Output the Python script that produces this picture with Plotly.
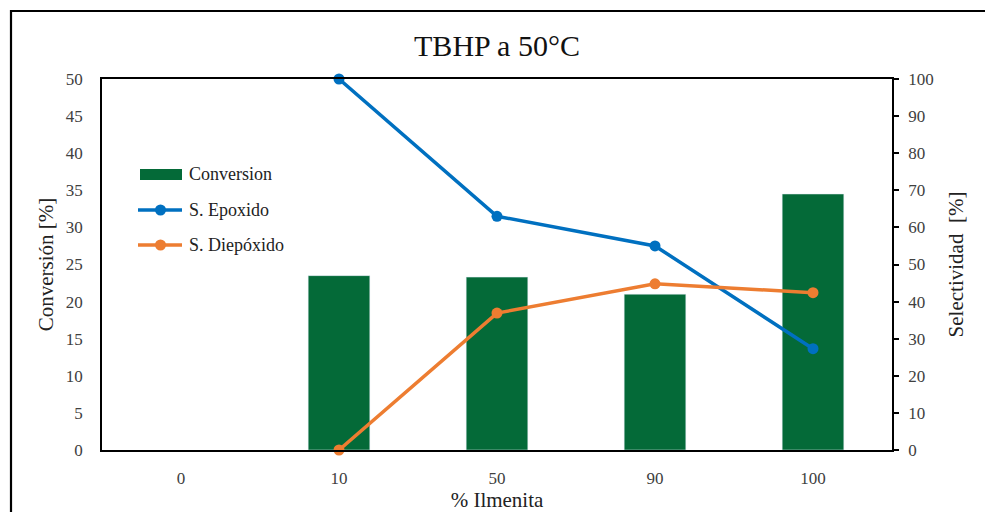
import plotly.graph_objects as go

categories = ["0", "10", "50", "90", "100"]
conversion = [None, 23.5, 23.3, 21.0, 34.5]
s_epoxido = [None, 100.0, 63.0, 55.0, 27.3]
s_diepoxido = [None, 0.0, 36.9, 44.8, 42.4]

GREEN = "#046A38"
BLUE = "#0070C0"
ORANGE = "#ED7D31"
FONT = "'Liberation Serif', 'Times New Roman', serif"

W, H = 985, 512
L, R, T, B = 102, 892, 79, 450


def px(x):
    return (x - L) / (R - L)


def py(y):
    return (B - y) / (B - T)


fig = go.Figure()
fig.add_trace(go.Bar(x=categories, y=conversion, name="Conversion",
                     marker_color=GREEN, yaxis="y", showlegend=False))
fig.add_trace(go.Scatter(x=categories, y=s_epoxido, name="S. Epoxido",
                         mode="lines+markers", yaxis="y2", showlegend=False,
                         line=dict(color=BLUE, width=3.5),
                         marker=dict(color=BLUE, size=11),
                         cliponaxis=False))
fig.add_trace(go.Scatter(x=categories, y=s_diepoxido, name="S. Diepóxido",
                         mode="lines+markers", yaxis="y2", showlegend=False,
                         line=dict(color=ORANGE, width=3.5),
                         marker=dict(color=ORANGE, size=11),
                         cliponaxis=False))

shapes = [
    # outer chart border
    dict(type="rect", xref="paper", yref="paper", x0=px(11), x1=px(1000),
         y0=py(11), y1=py(530), line=dict(color="black", width=2.2)),
    # legend swatches
    dict(type="rect", xref="paper", yref="paper", x0=px(140), x1=px(182),
         y0=py(169), y1=py(180), fillcolor=GREEN, line=dict(width=0)),
    dict(type="line", xref="paper", yref="paper", x0=px(138), x1=px(182),
         y0=py(210), y1=py(210), line=dict(color=BLUE, width=3.5)),
    dict(type="circle", xref="paper", yref="paper", x0=px(155), x1=px(166),
         y0=py(204.5), y1=py(215.5), fillcolor=BLUE, line=dict(width=0)),
    dict(type="line", xref="paper", yref="paper", x0=px(138), x1=px(182),
         y0=py(245), y1=py(245), line=dict(color=ORANGE, width=3.5)),
    dict(type="circle", xref="paper", yref="paper", x0=px(155), x1=px(166),
         y0=py(239.5), y1=py(250.5), fillcolor=ORANGE, line=dict(width=0)),
]

annotations = []
for label, yy in [("Conversion", 174), ("S. Epoxido", 210), ("S. Diepóxido", 245)]:
    annotations.append(dict(text=label, xref="paper", yref="paper", x=px(187), y=py(yy),
                            xanchor="left", yanchor="middle", showarrow=False,
                            font=dict(family=FONT, size=18, color="#222222")))

tickfont = dict(family=FONT, size=17, color="#404040")
titlefont = dict(family=FONT, size=21, color="#222222")

fig.update_layout(
    width=W, height=H,
    margin=dict(l=L, r=W - R, t=T, b=H - B),
    paper_bgcolor="white", plot_bgcolor="white",
    title=dict(text="TBHP a 50°C", x=497 / W, xanchor="center",
               y=1 - 45 / H, yanchor="middle",
               font=dict(family=FONT, size=30, color="#111111")),
    bargap=0.61,
    xaxis=dict(type="category", showline=True, linecolor="black", linewidth=1.5,
               mirror=True, ticks="", tickfont=tickfont, showgrid=False,
               ticklabelstandoff=12, automargin=False,
               title=dict(text="% Ilmenita", font=titlefont, standoff=8)),
    yaxis=dict(range=[0, 50], dtick=5, showline=True, linecolor="black", linewidth=1.5,
               ticks="", tickfont=tickfont, showgrid=False, zeroline=False,
               ticklabelstandoff=14, automargin=False,
               title=dict(text="Conversión [%]", font=titlefont, standoff=6)),
    yaxis2=dict(range=[0, 100], dtick=10, overlaying="y", side="right",
                showline=True, linecolor="black", linewidth=1.5,
                ticks="outside", ticklen=5, tickwidth=1.5, tickcolor="black",
                tickfont=tickfont, showgrid=False, zeroline=False,
                ticklabelstandoff=6, automargin=False,
                title=dict(text="Selectividad  [%]", font=titlefont, standoff=16)),
    shapes=shapes,
    annotations=annotations,
)

fig.write_html("out.html")
